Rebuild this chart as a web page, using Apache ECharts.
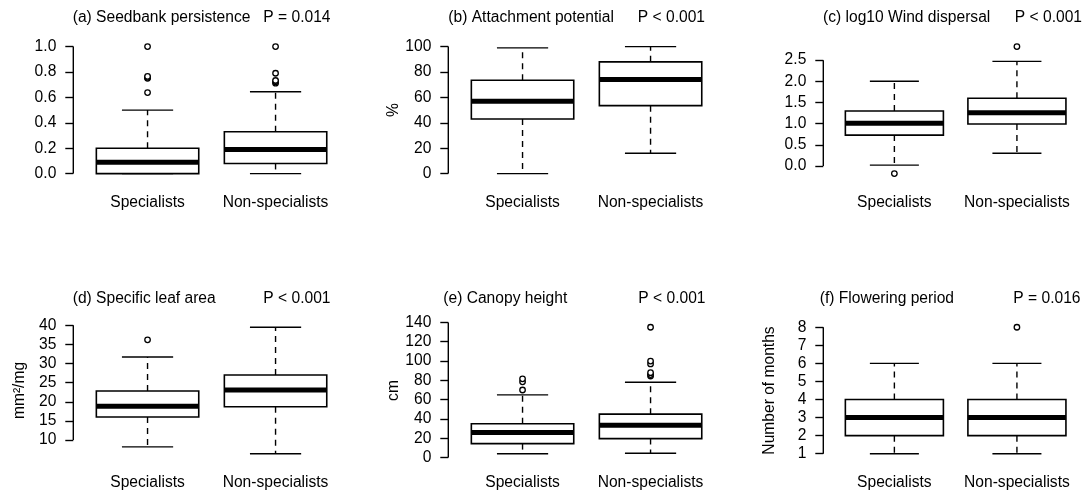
<!DOCTYPE html>
<html>
<head>
<meta charset="utf-8">
<script src="https://cdn.jsdelivr.net/npm/echarts@6/dist/echarts.min.js"></script>
<style>
  html, body { margin: 0; padding: 0; background: #fff; }
  #chart { width: 1088px; height: 494px; }
</style>
</head>
<body>
<div id="chart"></div>
<script>
const groups = ['Specialists', 'Non-specialists']

// each box: [lower whisker, Q1, median, Q3, upper whisker], specialists then non-specialists
const seedbankBox = [[0, 0, 0.09, 0.2, 0.5], [0, 0.08, 0.19, 0.33, 0.645]]
const seedbankOut = [[0.638, 0.75, 0.757, 0.765, 1.0], [0.712, 0.723, 0.733, 0.79, 1.0]]
const attachBox = [[0, 43, 57, 73.5, 99], [16, 53.5, 74, 88, 100]]
const attachOut = [[], []]
const windBox = [[0.02, 0.73, 1.01, 1.3, 2.0], [0.3, 0.99, 1.26, 1.6, 2.47]]
const windOut = [[-0.18], [2.82]]
const slaBox = [[8.2, 16, 18.8, 22.8, 31.7], [6.4, 18.7, 23.1, 27, 39.5]]
const slaOut = [[36.2], []]
const heightBox = [[4, 14.5, 26, 35, 65], [4.5, 19.7, 33.5, 45, 78]]
const heightOut = [[70, 78.5, 81.6], [84.5, 86, 88, 97, 100, 135]]
const floweringBox = [[1, 2, 3, 4, 6], [1, 2, 3, 4, 6]]
const floweringOut = [[], [8]]

const seedbankTicks = [0, 0.2, 0.4, 0.6, 0.8, 1.0]
const attachTicks = [0, 20, 40, 60, 80, 100]
const windTicks = [0, 0.5, 1.0, 1.5, 2.0, 2.5]
const slaTicks = [10, 15, 20, 25, 30, 35, 40]
const heightTicks = [0, 20, 40, 60, 80, 100, 120, 140]
const floweringTicks = [1, 2, 3, 4, 5, 6, 7, 8]

const titles = ['(a) Seedbank persistence', '(b) Attachment potential', '(c) log10 Wind dispersal',
  '(d) Specific leaf area', '(e) Canopy height', '(f) Flowering period']
const pValues = ['P = 0.014', 'P < 0.001', 'P < 0.001', 'P < 0.001', 'P < 0.001', 'P = 0.016']
const units = ['', '%', '', 'mm²/mg', 'cm', 'Number of months']

const panels = [
  { box: seedbankBox, out: seedbankOut, ticks: seedbankTicks, dec: 1 },
  { box: attachBox, out: attachOut, ticks: attachTicks, dec: 0 },
  { box: windBox, out: windOut, ticks: windTicks, dec: 1 },
  { box: slaBox, out: slaOut, ticks: slaTicks, dec: 0 },
  { box: heightBox, out: heightOut, ticks: heightTicks, dec: 0 },
  { box: floweringBox, out: floweringOut, ticks: floweringTicks, dec: 0 }
]

// layout (pixels)
const axisX = [73.3, 448.3, 823.3]
const rowTop = [41.5, 322.2]
const rowHeight = [137.2, 136.6]
const plotWidth = 276.5
const titleLeft = [72.7, 448.3, 823, 72.7, 443.3, 819.7]
const titleEnd = [330.5, 705, 1082, 330.5, 705.5, 1080.5]
const titleTop = [10, 10, 10, 291, 291, 291]
const xMin = 0.42
const xMax = 2.58

const font = 'Liberation Sans, Arial, sans-serif'
const fontSize = 15.6
const ink = '#000'

function renderBox (params, api) {
  const x = api.value(0)
  const pLo = api.coord([x, api.value(1)])
  const pQ1 = api.coord([x, api.value(2)])
  const pMed = api.coord([x, api.value(3)])
  const pQ3 = api.coord([x, api.value(4)])
  const pHi = api.coord([x, api.value(5)])
  const half = api.size([0.8, 0])[0] / 2
  const cap = half / 2
  const cx = pMed[0]
  const dash = { stroke: ink, lineWidth: 1.4, lineDash: [6, 5], fill: null }
  const solid = { stroke: ink, lineWidth: 1.4, fill: null }
  return {
    type: 'group',
    children: [
      { type: 'line', shape: { x1: cx, y1: pQ3[1], x2: cx, y2: pHi[1] }, style: dash },
      { type: 'line', shape: { x1: cx, y1: pQ1[1], x2: cx, y2: pLo[1] }, style: dash },
      { type: 'line', shape: { x1: cx - cap, y1: pHi[1], x2: cx + cap, y2: pHi[1] }, style: solid },
      { type: 'line', shape: { x1: cx - cap, y1: pLo[1], x2: cx + cap, y2: pLo[1] }, style: solid },
      { type: 'rect', shape: { x: cx - half, y: pQ3[1], width: half * 2, height: pQ1[1] - pQ3[1] },
        style: { fill: '#fff', stroke: ink, lineWidth: 1.6 } },
      { type: 'line', shape: { x1: cx - half, y1: pMed[1], x2: cx + half, y2: pMed[1] },
        style: { stroke: ink, lineWidth: 5 } }
    ]
  }
}

const option = {
  animation: false,
  backgroundColor: '#fff',
  title: [],
  grid: [],
  xAxis: [],
  yAxis: [],
  series: []
}

panels.forEach(function (p, i) {
  const row = i < 3 ? 0 : 1
  const col = i % 3
  const all = [].concat(...p.box, ...p.out)
  const lo = Math.min(...all)
  const hi = Math.max(...all)
  const pad = (hi - lo) * 0.04

  option.title.push({
    text: titles[i], left: titleLeft[i], top: titleTop[i], padding: 0,
    textStyle: { fontFamily: font, fontSize: fontSize, fontWeight: 'normal', color: ink }
  })
  option.title.push({
    text: pValues[i], right: 1088 - titleEnd[i], top: titleTop[i], padding: 0,
    textStyle: { fontFamily: font, fontSize: fontSize, fontWeight: 'normal', color: ink }
  })

  option.grid.push({ left: axisX[col], top: rowTop[row], width: plotWidth, height: rowHeight[row] })

  option.xAxis.push({
    type: 'value', gridIndex: i, min: xMin, max: xMax,
    axisLine: { show: false },
    axisTick: { show: false },
    splitLine: { show: false },
    axisLabel: {
      customValues: [1, 2],
      formatter: function (v) { return groups[Math.round(v) - 1] || '' },
      margin: 16, fontFamily: font, fontSize: fontSize, color: ink
    }
  })

  option.yAxis.push({
    type: 'value', gridIndex: i, min: lo - pad, max: hi + pad,
    name: units[i], nameLocation: 'middle', nameGap: 46,
    nameTextStyle: { fontFamily: font, fontSize: fontSize, color: ink },
    axisLine: { show: false },
    splitLine: { show: false },
    axisTick: { show: true, customValues: p.ticks, length: 8, lineStyle: { color: ink, width: 1.4 } },
    axisLabel: {
      customValues: p.ticks,
      formatter: function (v) { return Number(v).toFixed(p.dec) },
      margin: 17, fontFamily: font, fontSize: fontSize, color: ink
    }
  })

  option.series.push({
    type: 'custom', xAxisIndex: i, yAxisIndex: i, clip: false,
    renderItem: renderBox,
    data: p.box.map(function (b, g) { return [g + 1].concat(b) })
  })

  option.series.push({
    type: 'scatter', xAxisIndex: i, yAxisIndex: i,
    symbol: 'circle', symbolSize: 5.5,
    itemStyle: { color: '#fff', borderColor: ink, borderWidth: 1.3, opacity: 1 },
    data: [].concat(...p.out.map(function (arr, g) { return arr.map(function (v) { return [g + 1, v] }) }))
  })

  // R-style axis line running from first to last tick only
  option.series.push({
    type: 'line', xAxisIndex: i, yAxisIndex: i, clip: false, silent: true,
    symbol: 'none', lineStyle: { color: ink, width: 1.4 },
    data: [[xMin, p.ticks[0]], [xMin, p.ticks[p.ticks.length - 1]]]
  })
})

const chart = echarts.init(document.getElementById('chart'), null, { renderer: 'canvas' })
chart.setOption(option)
</script>
</body>
</html>
